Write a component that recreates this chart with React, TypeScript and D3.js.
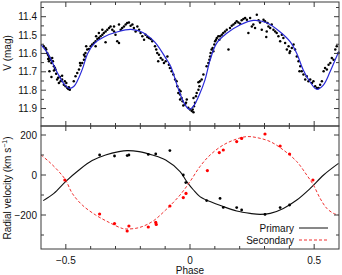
import React, { useRef, useEffect } from 'react';
import * as d3 from 'd3';

// light curve observations: [phase, V mag]
const lcObs: [number, number][] = [
  [-0.589, 11.561], [-0.582, 11.57], [-0.579, 11.579], [-0.575, 11.598], [-0.572, 11.607],
  [-0.568, 11.616], [-0.571, 11.63], [-0.566, 11.625], [-0.562, 11.634], [-0.568, 11.643],
  [-0.558, 11.652], [-0.552, 11.643], [-0.555, 11.625], [-0.548, 11.67], [-0.566, 11.697],
  [-0.558, 11.728], [-0.548, 11.693], [-0.542, 11.688], [-0.539, 11.71], [-0.535, 11.742],
  [-0.544, 11.679], [-0.531, 11.733], [-0.528, 11.761], [-0.521, 11.751], [-0.524, 11.728],
  [-0.515, 11.742], [-0.508, 11.77], [-0.501, 11.779], [-0.494, 11.788], [-0.49, 11.793],
  [-0.488, 11.784], [-0.484, 11.797], [-0.504, 11.751], [-0.515, 11.721], [-0.498, 11.761],
  [-0.468, 11.751], [-0.461, 11.724], [-0.454, 11.706], [-0.447, 11.688], [-0.441, 11.666],
  [-0.443, 11.652], [-0.434, 11.652], [-0.427, 11.634], [-0.423, 11.616], [-0.421, 11.598],
  [-0.414, 11.579], [-0.418, 11.561], [-0.407, 11.576], [-0.4, 11.561], [-0.394, 11.552],
  [-0.387, 11.543], [-0.38, 11.534], [-0.373, 11.521], [-0.378, 11.507], [-0.367, 11.516],
  [-0.36, 11.507], [-0.353, 11.498], [-0.347, 11.489], [-0.34, 11.48], [-0.333, 11.471],
  [-0.326, 11.462], [-0.32, 11.453], [-0.313, 11.471], [-0.306, 11.48], [-0.3, 11.498],
  [-0.293, 11.534], [-0.286, 11.543], [-0.279, 11.471], [-0.273, 11.462], [-0.266, 11.453],
  [-0.259, 11.443], [-0.253, 11.434], [-0.246, 11.431], [-0.239, 11.449], [-0.232, 11.443],
  [-0.226, 11.462], [-0.219, 11.48], [-0.212, 11.453], [-0.205, 11.471], [-0.199, 11.489],
  [-0.192, 11.507], [-0.185, 11.525], [-0.179, 11.498], [-0.172, 11.51], [-0.165, 11.516],
  [-0.158, 11.521], [-0.152, 11.534], [-0.141, 11.561], [-0.136, 11.579], [-0.132, 11.598],
  [-0.125, 11.607], [-0.128, 11.643], [-0.118, 11.625], [-0.111, 11.634], [-0.105, 11.652],
  [-0.098, 11.643], [-0.091, 11.616], [-0.085, 11.661], [-0.38, 11.561], [-0.34, 11.539],
  [-0.427, 11.607], [-0.367, 11.489], [-0.353, 11.471], [-0.306, 11.453], [-0.286, 11.443],
  [-0.081, 11.679], [-0.074, 11.697], [-0.067, 11.715], [-0.06, 11.742], [-0.054, 11.751],
  [-0.051, 11.779], [-0.047, 11.815], [-0.043, 11.797], [-0.04, 11.824], [-0.038, 11.806],
  [-0.034, 11.842], [-0.03, 11.86], [-0.04, 11.851], [-0.027, 11.884], [-0.02, 11.878],
  [-0.013, 11.851], [-0.016, 11.869], [-0.007, 11.896], [0.0, 11.905], [0.007, 11.914],
  [0.014, 11.92], [0.011, 11.905], [0.016, 11.887], [0.02, 11.869], [0.014, 11.842],
  [0.024, 11.833], [0.027, 11.815], [0.034, 11.797], [0.038, 11.779], [0.034, 11.757],
  [0.04, 11.751], [0.047, 11.742], [0.054, 11.715], [0.067, 11.67], [0.074, 11.652],
  [0.078, 11.634], [0.081, 11.616], [0.083, 11.598], [0.087, 11.579], [0.091, 11.57],
  [0.094, 11.588], [0.098, 11.552], [0.101, 11.534], [0.105, 11.525], [0.108, 11.516],
  [0.114, 11.507], [0.118, 11.525], [0.121, 11.507], [0.128, 11.498], [0.134, 11.489],
  [0.141, 11.48], [0.148, 11.471], [0.155, 11.579], [0.161, 11.462], [0.168, 11.449],
  [0.175, 11.443], [0.182, 11.434], [0.188, 11.425], [0.195, 11.431], [0.202, 11.438],
  [0.208, 11.42], [0.215, 11.413], [0.222, 11.407], [0.229, 11.416], [0.235, 11.489],
  [0.242, 11.407], [0.249, 11.453], [0.255, 11.443], [0.262, 11.462], [0.269, 11.389],
  [0.276, 11.42], [0.282, 11.431], [0.289, 11.471], [0.296, 11.416], [0.302, 11.425],
  [0.309, 11.48], [0.307, 11.511], [0.312, 11.434], [0.316, 11.453], [0.323, 11.462],
  [0.329, 11.443], [0.336, 11.471], [0.343, 11.48], [0.349, 11.489], [0.356, 11.507],
  [0.363, 11.534], [0.37, 11.498], [0.376, 11.516], [0.383, 11.543], [0.39, 11.579],
  [0.397, 11.561], [0.403, 11.588], [0.401, 11.598], [0.41, 11.57], [0.417, 11.552],
  [0.423, 11.579], [0.43, 11.616], [0.437, 11.643], [0.444, 11.67], [0.441, 11.697],
  [0.45, 11.697], [0.457, 11.715], [0.464, 11.742], [0.47, 11.724], [0.477, 11.751],
  [0.484, 11.742], [0.491, 11.761], [0.497, 11.751], [0.504, 11.779], [0.511, 11.788],
  [0.518, 11.788], [0.524, 11.77], [0.531, 11.751], [0.538, 11.697], [0.544, 11.679],
  [0.551, 11.688], [0.558, 11.661], [0.565, 11.652], [0.571, 11.625], [0.578, 11.634],
  [0.585, 11.579], [0.591, 11.561], [0.598, 11.598],
];

// light curve model
const lcModel: [number, number][] = [
  [-0.6, 11.552], [-0.573, 11.6], [-0.533, 11.708], [-0.505, 11.77], [-0.486, 11.79],
  [-0.468, 11.78], [-0.452, 11.745], [-0.432, 11.68], [-0.412, 11.6], [-0.385, 11.545],
  [-0.345, 11.509], [-0.291, 11.482], [-0.238, 11.469], [-0.197, 11.482], [-0.157, 11.518],
  [-0.134, 11.55], [-0.1, 11.62], [-0.077, 11.672], [-0.05, 11.781], [-0.023, 11.872],
  [-0.003, 11.904], [0.015, 11.885], [0.04, 11.817], [0.06, 11.745], [0.081, 11.636],
  [0.107, 11.545], [0.148, 11.49], [0.201, 11.445], [0.255, 11.42], [0.309, 11.433],
  [0.362, 11.482], [0.403, 11.536], [0.43, 11.6], [0.456, 11.69], [0.483, 11.754],
  [0.51, 11.795], [0.537, 11.772], [0.564, 11.7], [0.59, 11.618], [0.6, 11.59],
];

// radial velocities [phase, km/s]
const rvPrimary: [number, number][] = [
  [-0.364, 100], [-0.304, 95], [-0.253, 97], [-0.246, 100], [-0.168, 103], [-0.138, 105],
  [-0.081, 122], [-0.027, 0], [-0.017, -38], [0.067, -128], [0.121, -117], [0.134, -162],
  [0.188, -163], [0.208, -175], [0.302, -197], [0.363, -163], [0.401, -150],
];
const rvSecondary: [number, number][] = [
  [-0.504, -25], [-0.364, -195], [-0.304, -243], [-0.253, -280], [-0.246, -255],
  [-0.168, -260], [-0.138, -237], [-0.136, -247], [-0.081, -155], [-0.027, -113],
  [-0.016, -92], [0.07, 22], [0.118, 112], [0.134, 125], [0.188, 167], [0.208, 183],
  [0.302, 205], [0.363, 145], [0.401, 105], [0.495, -25],
];

const rvModelPrimary: [number, number][] = [
  [-0.591, -128], [-0.548, -92], [-0.501, -33], [-0.447, 25], [-0.394, 72], [-0.34, 100],
  [-0.286, 117], [-0.253, 122], [-0.205, 117], [-0.152, 100], [-0.098, 75], [-0.04, 17],
  [-0.013, -33], [0.014, -75], [0.04, -108], [0.081, -133], [0.134, -158], [0.188, -180],
  [0.242, -192], [0.282, -197], [0.323, -192], [0.376, -167], [0.43, -125], [0.484, -67],
  [0.538, 0], [0.598, 58],
];
const rvModelSecondary: [number, number][] = [
  [-0.6, 100], [-0.568, 67], [-0.528, 17], [-0.501, -25], [-0.474, -92], [-0.434, -150],
  [-0.38, -200], [-0.326, -237], [-0.273, -267], [-0.253, -270], [-0.205, -263],
  [-0.152, -233], [-0.098, -175], [-0.04, -100], [0.0, -33], [0.04, 42], [0.081, 100],
  [0.134, 150], [0.188, 180], [0.229, 192], [0.269, 187], [0.323, 167], [0.376, 125],
  [0.43, 67], [0.47, 0], [0.497, -50], [0.524, -117], [0.551, -167], [0.578, -192],
  [0.598, -200],
];

const phaseMajor = [-0.5, 0, 0.5];
const phaseMinor = [-0.4, -0.3, -0.2, -0.1, 0.1, 0.2, 0.3, 0.4];
const magMajor = [11.4, 11.5, 11.6, 11.7, 11.8, 11.9];
const magMinor = [11.35, 11.45, 11.55, 11.65, 11.75, 11.85, 11.95];
const rvMajor = [-200, 0, 200];
const rvMinor = [-300, -100, 100];

const fmt = (v: number) => (v < 0 ? '\u2212' + Math.abs(v) : String(v));

const Chart = () => {
  const ref = useRef<SVGSVGElement | null>(null);
  const width = 342;
  const height = 275;

  useEffect(() => {
    document.body.style.margin = '0';
    if (!ref.current) return;
    const L = 41, R = 339, T = 2, M = 126, B = 249;
    const font = 'Liberation Sans, Arial, Helvetica, sans-serif';
    const axisColor = '#3a3a3a';

    const x = d3.scaleLinear([-0.6, 0.6], [L, R]);
    const yMag = d3.scaleLinear([11.32, 11.995], [T, M]);
    const yRv = d3.scaleLinear([-370, 245], [B, M]);

    const svg = d3.select(ref.current);
    svg.selectAll('*').remove();

    // light curve
    svg
      .append('g')
      .selectAll('circle')
      .data(lcObs)
      .join('circle')
      .attr('cx', (d) => x(d[0]))
      .attr('cy', (d) => yMag(d[1]))
      .attr('r', 1.25)
      .attr('fill', '#000');

    const lineMag = d3
      .line<[number, number]>()
      .x((d) => x(d[0]))
      .y((d) => yMag(d[1]))
      .curve(d3.curveCatmullRom);
    svg
      .append('path')
      .attr('d', lineMag(lcModel))
      .attr('fill', 'none')
      .attr('stroke', '#2a2ad8')
      .attr('stroke-width', 1.2);

    // radial velocity
    const lineRv = d3
      .line<[number, number]>()
      .x((d) => x(d[0]))
      .y((d) => yRv(d[1]))
      .curve(d3.curveCatmullRom);
    svg
      .append('path')
      .attr('d', lineRv(rvModelPrimary))
      .attr('fill', 'none')
      .attr('stroke', '#111')
      .attr('stroke-width', 1.1);
    svg
      .append('path')
      .attr('d', lineRv(rvModelSecondary))
      .attr('fill', 'none')
      .attr('stroke', '#f03030')
      .attr('stroke-width', 1)
      .attr('stroke-dasharray', '3,2');

    svg
      .append('g')
      .selectAll('circle')
      .data(rvPrimary)
      .join('circle')
      .attr('cx', (d) => x(d[0]))
      .attr('cy', (d) => yRv(d[1]))
      .attr('r', 1.4)
      .attr('fill', '#000');
    svg
      .append('g')
      .selectAll('circle')
      .data(rvSecondary)
      .join('circle')
      .attr('cx', (d) => x(d[0]))
      .attr('cy', (d) => yRv(d[1]))
      .attr('r', 1.6)
      .attr('fill', '#f00');

    // frames
    const frame = svg.append('g').attr('fill', 'none').attr('stroke', axisColor);
    frame.append('rect').attr('x', L).attr('y', T).attr('width', R - L).attr('height', M - T);
    frame.append('rect').attr('x', L).attr('y', M).attr('width', R - L).attr('height', B - M);

    // ticks
    const ticks = svg.append('g').attr('stroke', axisColor).attr('stroke-width', 1);
    const hTick = (yy: number, len: number) => {
      ticks.append('line').attr('x1', L).attr('x2', L + len).attr('y1', yy).attr('y2', yy);
      ticks.append('line').attr('x1', R).attr('x2', R - len).attr('y1', yy).attr('y2', yy);
    };
    magMajor.forEach((v) => hTick(yMag(v), 5));
    magMinor.forEach((v) => hTick(yMag(v), 3));
    rvMajor.forEach((v) => hTick(yRv(v), 5));
    rvMinor.forEach((v) => hTick(yRv(v), 3));

    const vTick = (xx: number, len: number) => {
      ticks.append('line').attr('x1', xx).attr('x2', xx).attr('y1', T).attr('y2', T + len);
      ticks.append('line').attr('x1', xx).attr('x2', xx).attr('y1', M - len).attr('y2', M + len);
      ticks.append('line').attr('x1', xx).attr('x2', xx).attr('y1', B).attr('y2', B - len);
    };
    phaseMajor.forEach((v) => vTick(x(v), 5));
    phaseMinor.forEach((v) => vTick(x(v), 3));

    // tick labels
    const labels = svg
      .append('g')
      .attr('font-family', font)
      .attr('font-size', 10)
      .attr('fill', '#111');
    magMajor.forEach((v) =>
      labels
        .append('text')
        .attr('x', L - 4)
        .attr('y', yMag(v) + 3.5)
        .attr('text-anchor', 'end')
        .text(v.toFixed(1))
    );
    rvMajor.forEach((v) =>
      labels
        .append('text')
        .attr('x', L - 4)
        .attr('y', yRv(v) + 3.5)
        .attr('text-anchor', 'end')
        .text(fmt(v))
    );
    phaseMajor.forEach((v) =>
      labels
        .append('text')
        .attr('x', x(v))
        .attr('y', 263.5)
        .attr('text-anchor', 'middle')
        .text(fmt(v))
    );

    // axis titles
    labels
      .append('text')
      .attr('x', x(0))
      .attr('y', 274)
      .attr('text-anchor', 'middle')
      .text('Phase');
    labels
      .append('text')
      .attr('transform', `translate(11,${53}) rotate(-90)`)
      .attr('text-anchor', 'middle')
      .text('V (mag)');
    const rvTitle = labels
      .append('text')
      .attr('transform', `translate(11,${188}) rotate(-90)`)
      .attr('text-anchor', 'middle');
    rvTitle.append('tspan').text('Radial velocity (km s');
    rvTitle.append('tspan').attr('font-size', 7).attr('dy', -4).text('\u22121');
    rvTitle.append('tspan').attr('dy', 4).text(')');

    // legend
    const legend = [
      { label: 'Primary', color: '#111', dash: null, y: 228 },
      { label: 'Secondary', color: '#f03030', dash: '3,2', y: 240 },
    ];
    legend.forEach((d) => {
      labels
        .append('text')
        .attr('x', 294)
        .attr('y', d.y + 3.5)
        .attr('text-anchor', 'end')
        .text(d.label);
      svg
        .append('line')
        .attr('x1', 299)
        .attr('x2', 328)
        .attr('y1', d.y)
        .attr('y2', d.y)
        .attr('stroke', d.color)
        .attr('stroke-width', 1)
        .attr('stroke-dasharray', d.dash);
    });
  });

  return (
    <svg
      ref={ref}
      width={width}
      height={height}
      viewBox={`0 0 ${width} ${height}`}
      style={{ display: 'block' }}
    />
  );
};

export default function App() {
  return <Chart />;
}
